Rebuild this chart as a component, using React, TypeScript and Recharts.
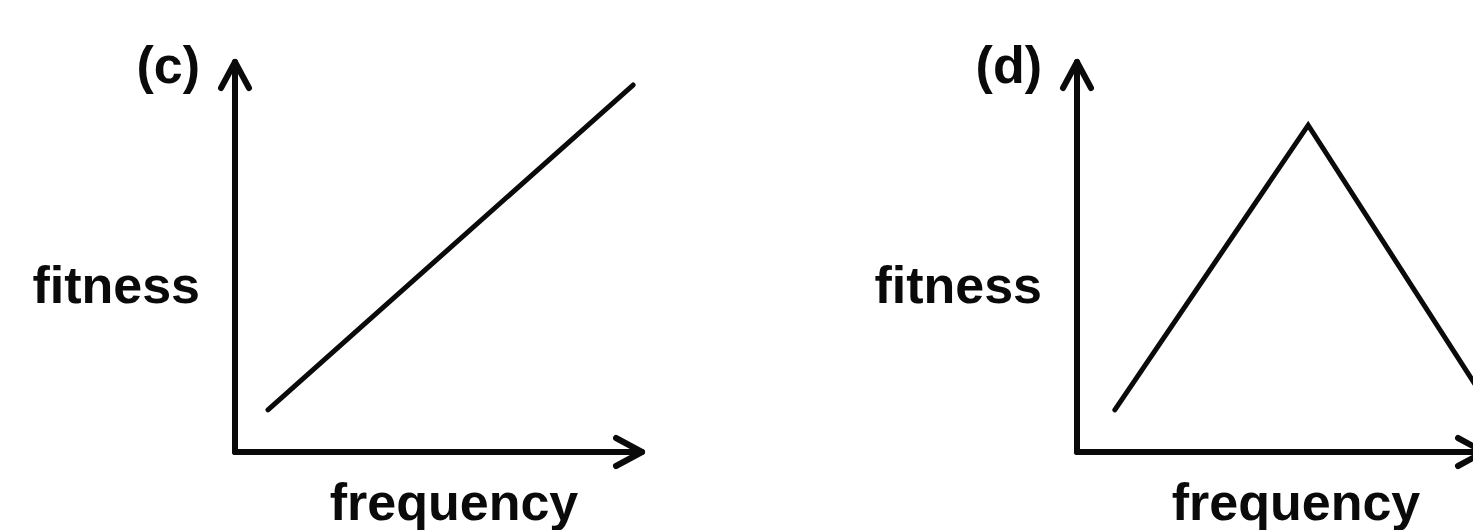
import { LineChart, Line, XAxis, YAxis, ReferenceLine } from 'recharts';

// panel (c): fitness rises with frequency
const freqC = [8.1, 97.8];
const fitC = [10.8, 94.1];
// panel (d): fitness peaks at intermediate frequency
const freqD = [9.3, 56.8, 100];
const fitD = [10.8, 83.8, 13.8];

const panels = [
  { tag: '(c)', freq: freqC, fit: fitC, left: 0 },
  { tag: '(d)', freq: freqD, fit: fitD, left: 842 },
];

const FONT = '"Liberation Sans", Arial, sans-serif';
const INK = '#0a0a0a';

// axis line with an open arrowhead at the end point
const ArrowAxis = (props: any) => {
  const { x1, y1, x2, y2 } = props;
  const ang = Math.atan2(y2 - y1, x2 - x1);
  const back = 26;
  const spread = 14;
  const bx = x2 - back * Math.cos(ang);
  const by = y2 - back * Math.sin(ang);
  const px = -Math.sin(ang) * spread;
  const py = Math.cos(ang) * spread;
  return (
    <g>
      <line x1={x1} y1={y1} x2={x2} y2={y2} stroke={INK} strokeWidth={6} strokeLinecap="round" />
      <polyline
        points={`${bx + px},${by + py} ${x2},${y2} ${bx - px},${by - py}`}
        fill="none"
        stroke={INK}
        strokeWidth={6}
        strokeLinecap="round"
        strokeLinejoin="round"
      />
    </g>
  );
};

function Panel({ tag, freq, fit }: { tag: string; freq: number[]; fit: number[] }) {
  const data = freq.map((f, i) => ({ freq: f, fit: fit[i] }));
  return (
    <LineChart width={736} height={530} data={data} margin={{ top: 62, left: 235, right: 94, bottom: 78 }}>
      <XAxis type="number" dataKey="freq" domain={[0, 100]} hide />
      <YAxis type="number" dataKey="fit" domain={[0, 100]} hide />
      <ReferenceLine segment={[{ x: 0, y: 0 }, { x: 0, y: 100 }]} ifOverflow="visible" shape={ArrowAxis} />
      <ReferenceLine segment={[{ x: 0, y: 0 }, { x: 100, y: 0 }]} ifOverflow="visible" shape={ArrowAxis} />
      <Line
        type="linear"
        dataKey="fit"
        stroke={INK}
        strokeWidth={5}
        strokeLinecap="round"
        strokeLinejoin="miter"
        dot={false}
        activeDot={false}
        isAnimationActive={false}
      />
      <text x={200} y={83} textAnchor="end" fontFamily={FONT} fontWeight="bold" fontSize={52} fill={INK}>
        {tag}
      </text>
      <text x={200} y={303} textAnchor="end" fontFamily={FONT} fontWeight="bold" fontSize={52} fill={INK}>
        fitness
      </text>
      <text x={454} y={520} textAnchor="middle" fontFamily={FONT} fontWeight="bold" fontSize={52} fill={INK}>
        frequency
      </text>
    </LineChart>
  );
}

export default function App() {
  return (
    <div style={{ position: 'absolute', left: 0, top: 0, width: 1473, height: 530, overflow: 'hidden', background: '#fff' }}>
      {panels.map((p) => (
        <div key={p.tag} style={{ position: 'absolute', left: p.left, top: 0 }}>
          <Panel tag={p.tag} freq={p.freq} fit={p.fit} />
        </div>
      ))}
    </div>
  );
}
